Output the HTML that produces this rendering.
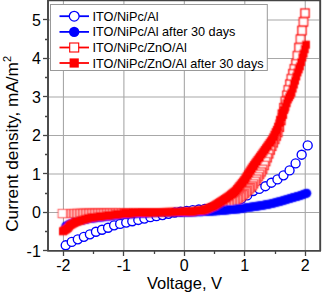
<!DOCTYPE html>
<html><head><meta charset="utf-8"><style>
html,body{margin:0;padding:0;background:#fff;}
body{width:322px;height:292px;overflow:hidden;font-family:"Liberation Sans",sans-serif;}
svg{display:block;}
#w{width:322px;height:292px;}
</style></head><body><div id="w">
<svg width="322" height="292" viewBox="0 0 322 292"><defs><filter id="soft" filterUnits="userSpaceOnUse" x="0" y="0" width="322" height="292"><feConvolveMatrix order="3" kernelMatrix="0.04 0.1 0.04 0.1 0.44 0.1 0.04 0.1 0.04" divisor="1" edgeMode="duplicate"/></filter></defs>
<line x1="63.45" y1="1" x2="63.45" y2="250" stroke="#a8a8a8" stroke-width="1.1"/>
<line x1="123.90" y1="1" x2="123.90" y2="250" stroke="#a8a8a8" stroke-width="1.1"/>
<line x1="184.35" y1="1" x2="184.35" y2="250" stroke="#a8a8a8" stroke-width="1.1"/>
<line x1="244.80" y1="1" x2="244.80" y2="250" stroke="#a8a8a8" stroke-width="1.1"/>
<line x1="305.25" y1="1" x2="305.25" y2="250" stroke="#a8a8a8" stroke-width="1.1"/>
<line x1="48" y1="212.45" x2="319" y2="212.45" stroke="#a8a8a8" stroke-width="1.1"/>
<line x1="48" y1="173.95" x2="319" y2="173.95" stroke="#a8a8a8" stroke-width="1.1"/>
<line x1="48" y1="135.45" x2="319" y2="135.45" stroke="#a8a8a8" stroke-width="1.1"/>
<line x1="48" y1="96.95" x2="319" y2="96.95" stroke="#a8a8a8" stroke-width="1.1"/>
<line x1="48" y1="58.45" x2="319" y2="58.45" stroke="#a8a8a8" stroke-width="1.1"/>
<line x1="48" y1="19.95" x2="319" y2="19.95" stroke="#a8a8a8" stroke-width="1.1"/>
<circle cx="65.70" cy="245.29" r="4.5" fill="#fff" stroke="#0000ff" stroke-width="1.35"/>
<circle cx="71.75" cy="241.89" r="4.5" fill="#fff" stroke="#0000ff" stroke-width="1.35"/>
<circle cx="77.80" cy="239.30" r="4.5" fill="#fff" stroke="#0000ff" stroke-width="1.35"/>
<circle cx="83.85" cy="236.80" r="4.5" fill="#fff" stroke="#0000ff" stroke-width="1.35"/>
<circle cx="89.90" cy="234.30" r="4.5" fill="#fff" stroke="#0000ff" stroke-width="1.35"/>
<circle cx="95.95" cy="231.78" r="4.5" fill="#fff" stroke="#0000ff" stroke-width="1.35"/>
<circle cx="102.00" cy="229.74" r="4.5" fill="#fff" stroke="#0000ff" stroke-width="1.35"/>
<circle cx="108.05" cy="227.72" r="4.5" fill="#fff" stroke="#0000ff" stroke-width="1.35"/>
<circle cx="114.10" cy="225.36" r="4.5" fill="#fff" stroke="#0000ff" stroke-width="1.35"/>
<circle cx="120.15" cy="223.91" r="4.5" fill="#fff" stroke="#0000ff" stroke-width="1.35"/>
<circle cx="126.20" cy="222.55" r="4.5" fill="#fff" stroke="#0000ff" stroke-width="1.35"/>
<circle cx="132.25" cy="221.27" r="4.5" fill="#fff" stroke="#0000ff" stroke-width="1.35"/>
<circle cx="138.30" cy="219.95" r="4.5" fill="#fff" stroke="#0000ff" stroke-width="1.35"/>
<circle cx="144.35" cy="218.56" r="4.5" fill="#fff" stroke="#0000ff" stroke-width="1.35"/>
<circle cx="150.40" cy="217.19" r="4.5" fill="#fff" stroke="#0000ff" stroke-width="1.35"/>
<circle cx="156.45" cy="216.13" r="4.5" fill="#fff" stroke="#0000ff" stroke-width="1.35"/>
<circle cx="162.50" cy="215.07" r="4.5" fill="#fff" stroke="#0000ff" stroke-width="1.35"/>
<circle cx="168.55" cy="213.83" r="4.5" fill="#fff" stroke="#0000ff" stroke-width="1.35"/>
<circle cx="174.60" cy="212.57" r="4.5" fill="#fff" stroke="#0000ff" stroke-width="1.35"/>
<circle cx="180.65" cy="211.66" r="4.5" fill="#fff" stroke="#0000ff" stroke-width="1.35"/>
<circle cx="186.70" cy="210.84" r="4.5" fill="#fff" stroke="#0000ff" stroke-width="1.35"/>
<circle cx="192.75" cy="210.11" r="4.5" fill="#fff" stroke="#0000ff" stroke-width="1.35"/>
<circle cx="198.80" cy="209.46" r="4.5" fill="#fff" stroke="#0000ff" stroke-width="1.35"/>
<circle cx="204.85" cy="208.82" r="4.5" fill="#fff" stroke="#0000ff" stroke-width="1.35"/>
<circle cx="210.90" cy="207.90" r="4.5" fill="#fff" stroke="#0000ff" stroke-width="1.35"/>
<circle cx="216.95" cy="206.97" r="4.5" fill="#fff" stroke="#0000ff" stroke-width="1.35"/>
<circle cx="223.00" cy="205.60" r="4.5" fill="#fff" stroke="#0000ff" stroke-width="1.35"/>
<circle cx="229.05" cy="203.78" r="4.5" fill="#fff" stroke="#0000ff" stroke-width="1.35"/>
<circle cx="235.10" cy="201.95" r="4.5" fill="#fff" stroke="#0000ff" stroke-width="1.35"/>
<circle cx="241.15" cy="198.93" r="4.5" fill="#fff" stroke="#0000ff" stroke-width="1.35"/>
<circle cx="247.20" cy="195.40" r="4.5" fill="#fff" stroke="#0000ff" stroke-width="1.35"/>
<circle cx="253.25" cy="191.00" r="4.5" fill="#fff" stroke="#0000ff" stroke-width="1.35"/>
<circle cx="259.30" cy="188.90" r="4.5" fill="#fff" stroke="#0000ff" stroke-width="1.35"/>
<circle cx="265.35" cy="186.20" r="4.5" fill="#fff" stroke="#0000ff" stroke-width="1.35"/>
<circle cx="271.40" cy="182.70" r="4.5" fill="#fff" stroke="#0000ff" stroke-width="1.35"/>
<circle cx="277.45" cy="179.40" r="4.5" fill="#fff" stroke="#0000ff" stroke-width="1.35"/>
<circle cx="283.50" cy="175.30" r="4.5" fill="#fff" stroke="#0000ff" stroke-width="1.35"/>
<circle cx="289.55" cy="170.40" r="4.5" fill="#fff" stroke="#0000ff" stroke-width="1.35"/>
<circle cx="295.60" cy="163.40" r="4.5" fill="#fff" stroke="#0000ff" stroke-width="1.35"/>
<circle cx="301.65" cy="154.70" r="4.5" fill="#fff" stroke="#0000ff" stroke-width="1.35"/>
<circle cx="307.70" cy="145.40" r="4.5" fill="#fff" stroke="#0000ff" stroke-width="1.35"/>
<g filter="url(#soft)">
<rect x="300.90" y="9.10" width="8.2" height="8.2" fill="#fff" stroke="#ff0000" stroke-width="1.40"/>
<rect x="299.39" y="17.76" width="8.2" height="8.2" fill="#fff" stroke="#ff0000" stroke-width="1.40"/>
<rect x="297.88" y="26.43" width="8.2" height="8.2" fill="#fff" stroke="#ff0000" stroke-width="1.40"/>
<rect x="296.38" y="35.09" width="8.2" height="8.2" fill="#fff" stroke="#ff0000" stroke-width="1.40"/>
<rect x="294.87" y="43.54" width="8.2" height="8.2" fill="#fff" stroke="#ff0000" stroke-width="1.40"/>
<rect x="293.36" y="51.58" width="8.2" height="8.2" fill="#fff" stroke="#ff0000" stroke-width="1.40"/>
<rect x="291.85" y="59.63" width="8.2" height="8.2" fill="#fff" stroke="#ff0000" stroke-width="1.40"/>
<rect x="290.34" y="64.67" width="8.2" height="8.2" fill="#fff" stroke="#ff0000" stroke-width="1.40"/>
<rect x="288.84" y="69.60" width="8.2" height="8.2" fill="#fff" stroke="#ff0000" stroke-width="1.40"/>
<rect x="287.33" y="74.57" width="8.2" height="8.2" fill="#fff" stroke="#ff0000" stroke-width="1.40"/>
<rect x="285.82" y="80.14" width="8.2" height="8.2" fill="#fff" stroke="#ff0000" stroke-width="1.40"/>
<rect x="284.31" y="85.70" width="8.2" height="8.2" fill="#fff" stroke="#ff0000" stroke-width="1.38"/>
<rect x="282.80" y="91.27" width="8.2" height="8.2" fill="#fff" stroke="#ff0000" stroke-width="1.36"/>
<rect x="281.30" y="97.29" width="8.2" height="8.2" fill="#fff" stroke="#ff0000" stroke-width="1.35"/>
<rect x="279.79" y="103.62" width="8.2" height="8.2" fill="#fff" stroke="#ff0000" stroke-width="1.33"/>
<rect x="278.28" y="110.03" width="8.2" height="8.2" fill="#fff" stroke="#ff0000" stroke-width="1.31"/>
<rect x="276.77" y="116.47" width="8.2" height="8.2" fill="#fff" stroke="#ff0000" stroke-width="1.30"/>
<rect x="275.26" y="123.17" width="8.2" height="8.2" fill="#fff" stroke="#ff0000" stroke-width="1.28"/>
<rect x="273.75" y="128.47" width="8.2" height="8.2" fill="#fff" stroke="#ff0000" stroke-width="1.26"/>
<rect x="272.25" y="131.89" width="8.2" height="8.2" fill="#fff" stroke="#ff0000" stroke-width="1.24"/>
<rect x="270.74" y="135.32" width="8.2" height="8.2" fill="#fff" stroke="#ff0000" stroke-width="1.23"/>
<rect x="269.23" y="138.74" width="8.2" height="8.2" fill="#fff" stroke="#ff0000" stroke-width="1.21"/>
<rect x="267.72" y="142.17" width="8.2" height="8.2" fill="#fff" stroke="#ff0000" stroke-width="1.19"/>
<rect x="266.21" y="145.93" width="8.2" height="8.2" fill="#fff" stroke="#ff0000" stroke-width="1.18"/>
<rect x="264.71" y="149.78" width="8.2" height="8.2" fill="#fff" stroke="#ff0000" stroke-width="1.16"/>
<rect x="263.20" y="153.64" width="8.2" height="8.2" fill="#fff" stroke="#ff0000" stroke-width="1.14"/>
<rect x="261.69" y="157.49" width="8.2" height="8.2" fill="#fff" stroke="#ff0000" stroke-width="1.12"/>
<rect x="260.18" y="161.35" width="8.2" height="8.2" fill="#fff" stroke="#ff0000" stroke-width="1.11"/>
<rect x="258.67" y="165.20" width="8.2" height="8.2" fill="#fff" stroke="#ff0000" stroke-width="1.09"/>
<rect x="257.17" y="167.84" width="8.2" height="8.2" fill="#fff" stroke="#ff0000" stroke-width="1.07"/>
<rect x="255.66" y="170.21" width="8.2" height="8.2" fill="#fff" stroke="#ff0000" stroke-width="1.05"/>
<rect x="254.15" y="172.57" width="8.2" height="8.2" fill="#fff" stroke="#ff0000" stroke-width="1.04"/>
<rect x="252.64" y="174.94" width="8.2" height="8.2" fill="#fff" stroke="#ff0000" stroke-width="1.02"/>
<rect x="251.13" y="177.31" width="8.2" height="8.2" fill="#fff" stroke="#ff0000" stroke-width="1.00"/>
<rect x="249.63" y="179.68" width="8.2" height="8.2" fill="#fff" stroke="#ff0000" stroke-width="0.99"/>
<rect x="248.12" y="181.88" width="8.2" height="8.2" fill="#fff" stroke="#ff0000" stroke-width="0.99"/>
<rect x="246.61" y="183.35" width="8.2" height="8.2" fill="#fff" stroke="#ff0000" stroke-width="0.98"/>
<rect x="245.10" y="184.83" width="8.2" height="8.2" fill="#fff" stroke="#ff0000" stroke-width="0.97"/>
<rect x="243.59" y="186.31" width="8.2" height="8.2" fill="#fff" stroke="#ff0000" stroke-width="0.97"/>
<rect x="242.09" y="187.78" width="8.2" height="8.2" fill="#fff" stroke="#ff0000" stroke-width="0.96"/>
<rect x="240.58" y="189.26" width="8.2" height="8.2" fill="#fff" stroke="#ff0000" stroke-width="0.95"/>
<rect x="239.07" y="190.73" width="8.2" height="8.2" fill="#fff" stroke="#ff0000" stroke-width="0.95"/>
<rect x="237.56" y="191.82" width="8.2" height="8.2" fill="#fff" stroke="#ff0000" stroke-width="0.94"/>
<rect x="236.05" y="192.86" width="8.2" height="8.2" fill="#fff" stroke="#ff0000" stroke-width="0.93"/>
<rect x="234.54" y="193.89" width="8.2" height="8.2" fill="#fff" stroke="#ff0000" stroke-width="0.93"/>
<rect x="233.04" y="194.93" width="8.2" height="8.2" fill="#fff" stroke="#ff0000" stroke-width="0.92"/>
<rect x="231.53" y="195.97" width="8.2" height="8.2" fill="#fff" stroke="#ff0000" stroke-width="0.91"/>
<rect x="230.02" y="196.80" width="8.2" height="8.2" fill="#fff" stroke="#ff0000" stroke-width="0.91"/>
<rect x="228.51" y="197.47" width="8.2" height="8.2" fill="#fff" stroke="#ff0000" stroke-width="0.90"/>
<rect x="227.00" y="198.15" width="8.2" height="8.2" fill="#fff" stroke="#ff0000" stroke-width="0.89"/>
<rect x="225.50" y="198.83" width="8.2" height="8.2" fill="#fff" stroke="#ff0000" stroke-width="0.88"/>
<rect x="223.99" y="199.51" width="8.2" height="8.2" fill="#fff" stroke="#ff0000" stroke-width="0.88"/>
<rect x="222.48" y="200.19" width="8.2" height="8.2" fill="#fff" stroke="#ff0000" stroke-width="0.87"/>
<rect x="220.97" y="200.87" width="8.2" height="8.2" fill="#fff" stroke="#ff0000" stroke-width="0.86"/>
<rect x="219.46" y="201.37" width="8.2" height="8.2" fill="#fff" stroke="#ff0000" stroke-width="0.86"/>
<rect x="217.96" y="201.87" width="8.2" height="8.2" fill="#fff" stroke="#ff0000" stroke-width="0.85"/>
<rect x="216.45" y="202.37" width="8.2" height="8.2" fill="#fff" stroke="#ff0000" stroke-width="0.84"/>
<rect x="214.94" y="202.87" width="8.2" height="8.2" fill="#fff" stroke="#ff0000" stroke-width="0.84"/>
<rect x="213.43" y="203.36" width="8.2" height="8.2" fill="#fff" stroke="#ff0000" stroke-width="0.83"/>
<rect x="211.92" y="203.86" width="8.2" height="8.2" fill="#fff" stroke="#ff0000" stroke-width="0.82"/>
<rect x="210.42" y="204.29" width="8.2" height="8.2" fill="#fff" stroke="#ff0000" stroke-width="0.82"/>
<rect x="208.91" y="204.56" width="8.2" height="8.2" fill="#fff" stroke="#ff0000" stroke-width="0.81"/>
<rect x="207.40" y="204.83" width="8.2" height="8.2" fill="#fff" stroke="#ff0000" stroke-width="0.80"/>
<rect x="205.89" y="205.10" width="8.2" height="8.2" fill="#fff" stroke="#ff0000" stroke-width="0.80"/>
<rect x="204.38" y="205.37" width="8.2" height="8.2" fill="#fff" stroke="#ff0000" stroke-width="0.79"/>
<rect x="202.88" y="205.64" width="8.2" height="8.2" fill="#fff" stroke="#ff0000" stroke-width="0.78"/>
<rect x="201.37" y="205.92" width="8.2" height="8.2" fill="#fff" stroke="#ff0000" stroke-width="0.77"/>
<rect x="199.86" y="206.19" width="8.2" height="8.2" fill="#fff" stroke="#ff0000" stroke-width="0.77"/>
<rect x="198.35" y="206.46" width="8.2" height="8.2" fill="#fff" stroke="#ff0000" stroke-width="0.76"/>
<rect x="196.84" y="206.73" width="8.2" height="8.2" fill="#fff" stroke="#ff0000" stroke-width="0.75"/>
<rect x="195.33" y="206.95" width="8.2" height="8.2" fill="#fff" stroke="#ff0000" stroke-width="0.75"/>
<rect x="193.83" y="207.07" width="8.2" height="8.2" fill="#fff" stroke="#ff0000" stroke-width="0.75"/>
<rect x="192.32" y="207.19" width="8.2" height="8.2" fill="#fff" stroke="#ff0000" stroke-width="0.75"/>
<rect x="190.81" y="207.31" width="8.2" height="8.2" fill="#fff" stroke="#ff0000" stroke-width="0.75"/>
<rect x="189.30" y="207.43" width="8.2" height="8.2" fill="#fff" stroke="#ff0000" stroke-width="0.75"/>
<rect x="187.79" y="207.55" width="8.2" height="8.2" fill="#fff" stroke="#ff0000" stroke-width="0.75"/>
<rect x="186.29" y="207.67" width="8.2" height="8.2" fill="#fff" stroke="#ff0000" stroke-width="0.75"/>
<rect x="184.78" y="207.79" width="8.2" height="8.2" fill="#fff" stroke="#ff0000" stroke-width="0.75"/>
<rect x="183.27" y="207.91" width="8.2" height="8.2" fill="#fff" stroke="#ff0000" stroke-width="0.75"/>
<rect x="181.76" y="208.03" width="8.2" height="8.2" fill="#fff" stroke="#ff0000" stroke-width="0.75"/>
<rect x="180.25" y="208.11" width="8.2" height="8.2" fill="#fff" stroke="#ff0000" stroke-width="0.75"/>
<rect x="178.75" y="208.12" width="8.2" height="8.2" fill="#fff" stroke="#ff0000" stroke-width="0.75"/>
<rect x="177.24" y="208.14" width="8.2" height="8.2" fill="#fff" stroke="#ff0000" stroke-width="0.75"/>
<rect x="175.73" y="208.16" width="8.2" height="8.2" fill="#fff" stroke="#ff0000" stroke-width="0.75"/>
<rect x="174.22" y="208.18" width="8.2" height="8.2" fill="#fff" stroke="#ff0000" stroke-width="0.75"/>
<rect x="172.71" y="208.19" width="8.2" height="8.2" fill="#fff" stroke="#ff0000" stroke-width="0.75"/>
<rect x="171.21" y="208.21" width="8.2" height="8.2" fill="#fff" stroke="#ff0000" stroke-width="0.75"/>
<rect x="169.70" y="208.23" width="8.2" height="8.2" fill="#fff" stroke="#ff0000" stroke-width="0.75"/>
<rect x="168.19" y="208.25" width="8.2" height="8.2" fill="#fff" stroke="#ff0000" stroke-width="0.75"/>
<rect x="166.68" y="208.26" width="8.2" height="8.2" fill="#fff" stroke="#ff0000" stroke-width="0.75"/>
<rect x="165.17" y="208.28" width="8.2" height="8.2" fill="#fff" stroke="#ff0000" stroke-width="0.75"/>
<rect x="163.67" y="208.30" width="8.2" height="8.2" fill="#fff" stroke="#ff0000" stroke-width="0.75"/>
<rect x="162.16" y="208.31" width="8.2" height="8.2" fill="#fff" stroke="#ff0000" stroke-width="0.75"/>
<rect x="160.65" y="208.33" width="8.2" height="8.2" fill="#fff" stroke="#ff0000" stroke-width="0.75"/>
<rect x="159.14" y="208.35" width="8.2" height="8.2" fill="#fff" stroke="#ff0000" stroke-width="0.75"/>
<rect x="157.63" y="208.37" width="8.2" height="8.2" fill="#fff" stroke="#ff0000" stroke-width="0.75"/>
<rect x="156.12" y="208.38" width="8.2" height="8.2" fill="#fff" stroke="#ff0000" stroke-width="0.75"/>
<rect x="154.62" y="208.40" width="8.2" height="8.2" fill="#fff" stroke="#ff0000" stroke-width="0.75"/>
<rect x="153.11" y="208.42" width="8.2" height="8.2" fill="#fff" stroke="#ff0000" stroke-width="0.75"/>
<rect x="151.60" y="208.43" width="8.2" height="8.2" fill="#fff" stroke="#ff0000" stroke-width="0.75"/>
<rect x="150.09" y="208.45" width="8.2" height="8.2" fill="#fff" stroke="#ff0000" stroke-width="0.75"/>
<rect x="148.58" y="208.47" width="8.2" height="8.2" fill="#fff" stroke="#ff0000" stroke-width="0.75"/>
<rect x="147.08" y="208.49" width="8.2" height="8.2" fill="#fff" stroke="#ff0000" stroke-width="0.75"/>
<rect x="145.57" y="208.50" width="8.2" height="8.2" fill="#fff" stroke="#ff0000" stroke-width="0.75"/>
<rect x="144.06" y="208.52" width="8.2" height="8.2" fill="#fff" stroke="#ff0000" stroke-width="0.75"/>
<rect x="142.55" y="208.53" width="8.2" height="8.2" fill="#fff" stroke="#ff0000" stroke-width="0.75"/>
<rect x="141.04" y="208.55" width="8.2" height="8.2" fill="#fff" stroke="#ff0000" stroke-width="0.75"/>
<rect x="139.54" y="208.56" width="8.2" height="8.2" fill="#fff" stroke="#ff0000" stroke-width="0.75"/>
<rect x="138.03" y="208.58" width="8.2" height="8.2" fill="#fff" stroke="#ff0000" stroke-width="0.75"/>
<rect x="136.52" y="208.59" width="8.2" height="8.2" fill="#fff" stroke="#ff0000" stroke-width="0.75"/>
<rect x="135.01" y="208.61" width="8.2" height="8.2" fill="#fff" stroke="#ff0000" stroke-width="0.75"/>
<rect x="133.50" y="208.62" width="8.2" height="8.2" fill="#fff" stroke="#ff0000" stroke-width="0.75"/>
<rect x="132.00" y="208.64" width="8.2" height="8.2" fill="#fff" stroke="#ff0000" stroke-width="0.75"/>
<rect x="130.49" y="208.65" width="8.2" height="8.2" fill="#fff" stroke="#ff0000" stroke-width="0.75"/>
<rect x="128.98" y="208.67" width="8.2" height="8.2" fill="#fff" stroke="#ff0000" stroke-width="0.75"/>
<rect x="127.47" y="208.68" width="8.2" height="8.2" fill="#fff" stroke="#ff0000" stroke-width="0.75"/>
<rect x="125.96" y="208.70" width="8.2" height="8.2" fill="#fff" stroke="#ff0000" stroke-width="0.75"/>
<rect x="124.46" y="208.71" width="8.2" height="8.2" fill="#fff" stroke="#ff0000" stroke-width="0.75"/>
<rect x="122.95" y="208.73" width="8.2" height="8.2" fill="#fff" stroke="#ff0000" stroke-width="0.75"/>
<rect x="121.44" y="208.74" width="8.2" height="8.2" fill="#fff" stroke="#ff0000" stroke-width="0.75"/>
<rect x="119.93" y="208.76" width="8.2" height="8.2" fill="#fff" stroke="#ff0000" stroke-width="0.75"/>
<rect x="118.42" y="208.77" width="8.2" height="8.2" fill="#fff" stroke="#ff0000" stroke-width="0.75"/>
<rect x="116.91" y="208.79" width="8.2" height="8.2" fill="#fff" stroke="#ff0000" stroke-width="0.75"/>
<rect x="115.41" y="208.80" width="8.2" height="8.2" fill="#fff" stroke="#ff0000" stroke-width="0.75"/>
<rect x="113.90" y="208.82" width="8.2" height="8.2" fill="#fff" stroke="#ff0000" stroke-width="0.75"/>
<rect x="112.39" y="208.84" width="8.2" height="8.2" fill="#fff" stroke="#ff0000" stroke-width="0.75"/>
<rect x="110.88" y="208.85" width="8.2" height="8.2" fill="#fff" stroke="#ff0000" stroke-width="0.75"/>
<rect x="109.37" y="208.87" width="8.2" height="8.2" fill="#fff" stroke="#ff0000" stroke-width="0.75"/>
<rect x="107.87" y="208.88" width="8.2" height="8.2" fill="#fff" stroke="#ff0000" stroke-width="0.75"/>
<rect x="106.36" y="208.90" width="8.2" height="8.2" fill="#fff" stroke="#ff0000" stroke-width="0.75"/>
<rect x="104.85" y="208.91" width="8.2" height="8.2" fill="#fff" stroke="#ff0000" stroke-width="0.75"/>
<rect x="103.34" y="208.93" width="8.2" height="8.2" fill="#fff" stroke="#ff0000" stroke-width="0.75"/>
<rect x="101.83" y="208.94" width="8.2" height="8.2" fill="#fff" stroke="#ff0000" stroke-width="0.75"/>
<rect x="100.33" y="208.96" width="8.2" height="8.2" fill="#fff" stroke="#ff0000" stroke-width="0.75"/>
<rect x="98.82" y="208.97" width="8.2" height="8.2" fill="#fff" stroke="#ff0000" stroke-width="0.75"/>
<rect x="97.31" y="208.99" width="8.2" height="8.2" fill="#fff" stroke="#ff0000" stroke-width="0.75"/>
<rect x="95.80" y="209.00" width="8.2" height="8.2" fill="#fff" stroke="#ff0000" stroke-width="0.75"/>
<rect x="94.29" y="209.02" width="8.2" height="8.2" fill="#fff" stroke="#ff0000" stroke-width="0.75"/>
<rect x="92.79" y="209.03" width="8.2" height="8.2" fill="#fff" stroke="#ff0000" stroke-width="0.75"/>
<rect x="91.28" y="209.05" width="8.2" height="8.2" fill="#fff" stroke="#ff0000" stroke-width="0.75"/>
<rect x="89.77" y="209.06" width="8.2" height="8.2" fill="#fff" stroke="#ff0000" stroke-width="0.75"/>
<rect x="88.26" y="209.08" width="8.2" height="8.2" fill="#fff" stroke="#ff0000" stroke-width="0.75"/>
<rect x="86.75" y="209.09" width="8.2" height="8.2" fill="#fff" stroke="#ff0000" stroke-width="0.75"/>
<rect x="85.25" y="209.11" width="8.2" height="8.2" fill="#fff" stroke="#ff0000" stroke-width="0.75"/>
<rect x="83.74" y="209.13" width="8.2" height="8.2" fill="#fff" stroke="#ff0000" stroke-width="0.75"/>
<rect x="82.23" y="209.15" width="8.2" height="8.2" fill="#fff" stroke="#ff0000" stroke-width="0.75"/>
<rect x="80.72" y="209.17" width="8.2" height="8.2" fill="#fff" stroke="#ff0000" stroke-width="0.75"/>
<rect x="79.21" y="209.20" width="8.2" height="8.2" fill="#fff" stroke="#ff0000" stroke-width="0.75"/>
<rect x="77.70" y="209.22" width="8.2" height="8.2" fill="#fff" stroke="#ff0000" stroke-width="0.75"/>
<rect x="76.20" y="209.24" width="8.2" height="8.2" fill="#fff" stroke="#ff0000" stroke-width="0.75"/>
<rect x="74.69" y="209.26" width="8.2" height="8.2" fill="#fff" stroke="#ff0000" stroke-width="0.75"/>
<rect x="73.18" y="209.28" width="8.2" height="8.2" fill="#fff" stroke="#ff0000" stroke-width="0.75"/>
<rect x="71.67" y="209.30" width="8.2" height="8.2" fill="#fff" stroke="#ff0000" stroke-width="0.75"/>
<rect x="70.16" y="209.33" width="8.2" height="8.2" fill="#fff" stroke="#ff0000" stroke-width="0.75"/>
<rect x="68.66" y="209.35" width="8.2" height="8.2" fill="#fff" stroke="#ff0000" stroke-width="0.75"/>
<rect x="67.15" y="209.37" width="8.2" height="8.2" fill="#fff" stroke="#ff0000" stroke-width="0.75"/>
<rect x="65.64" y="209.39" width="8.2" height="8.2" fill="#fff" stroke="#ff0000" stroke-width="0.75"/>
<rect x="64.13" y="209.41" width="8.2" height="8.2" fill="#fff" stroke="#ff0000" stroke-width="0.75"/>
<rect x="62.62" y="209.43" width="8.2" height="8.2" fill="#fff" stroke="#ff0000" stroke-width="0.75"/>
<rect x="61.12" y="209.46" width="8.2" height="8.2" fill="#fff" stroke="#ff0000" stroke-width="0.75"/>
<rect x="59.61" y="209.48" width="8.2" height="8.2" fill="#fff" stroke="#ff0000" stroke-width="0.75"/>
<rect x="58.10" y="209.50" width="8.2" height="8.2" fill="#fff" stroke="#ff0000" stroke-width="0.75"/>
<circle cx="65.70" cy="226.20" r="4.5" fill="#0000ff"/>
<circle cx="66.91" cy="225.52" r="4.5" fill="#0000ff"/>
<circle cx="68.12" cy="224.85" r="4.5" fill="#0000ff"/>
<circle cx="69.33" cy="224.17" r="4.5" fill="#0000ff"/>
<circle cx="70.55" cy="223.60" r="4.5" fill="#0000ff"/>
<circle cx="71.76" cy="223.17" r="4.5" fill="#0000ff"/>
<circle cx="72.97" cy="222.73" r="4.5" fill="#0000ff"/>
<circle cx="74.18" cy="222.29" r="4.5" fill="#0000ff"/>
<circle cx="75.39" cy="221.91" r="4.5" fill="#0000ff"/>
<circle cx="76.60" cy="221.62" r="4.5" fill="#0000ff"/>
<circle cx="77.82" cy="221.32" r="4.5" fill="#0000ff"/>
<circle cx="79.03" cy="221.03" r="4.5" fill="#0000ff"/>
<circle cx="80.24" cy="220.75" r="4.5" fill="#0000ff"/>
<circle cx="81.45" cy="220.48" r="4.5" fill="#0000ff"/>
<circle cx="82.66" cy="220.21" r="4.5" fill="#0000ff"/>
<circle cx="83.87" cy="219.95" r="4.5" fill="#0000ff"/>
<circle cx="85.08" cy="219.68" r="4.5" fill="#0000ff"/>
<circle cx="86.30" cy="219.41" r="4.5" fill="#0000ff"/>
<circle cx="87.51" cy="219.15" r="4.5" fill="#0000ff"/>
<circle cx="88.72" cy="218.88" r="4.5" fill="#0000ff"/>
<circle cx="89.93" cy="218.62" r="4.5" fill="#0000ff"/>
<circle cx="91.14" cy="218.45" r="4.5" fill="#0000ff"/>
<circle cx="92.35" cy="218.29" r="4.5" fill="#0000ff"/>
<circle cx="93.57" cy="218.14" r="4.5" fill="#0000ff"/>
<circle cx="94.78" cy="217.98" r="4.5" fill="#0000ff"/>
<circle cx="95.99" cy="217.82" r="4.5" fill="#0000ff"/>
<circle cx="97.20" cy="217.66" r="4.5" fill="#0000ff"/>
<circle cx="98.41" cy="217.51" r="4.5" fill="#0000ff"/>
<circle cx="99.62" cy="217.35" r="4.5" fill="#0000ff"/>
<circle cx="100.84" cy="217.20" r="4.5" fill="#0000ff"/>
<circle cx="102.05" cy="217.06" r="4.5" fill="#0000ff"/>
<circle cx="103.26" cy="216.92" r="4.5" fill="#0000ff"/>
<circle cx="104.47" cy="216.78" r="4.5" fill="#0000ff"/>
<circle cx="105.68" cy="216.64" r="4.5" fill="#0000ff"/>
<circle cx="106.89" cy="216.50" r="4.5" fill="#0000ff"/>
<circle cx="108.10" cy="216.36" r="4.5" fill="#0000ff"/>
<circle cx="109.32" cy="216.22" r="4.5" fill="#0000ff"/>
<circle cx="110.53" cy="216.08" r="4.5" fill="#0000ff"/>
<circle cx="111.74" cy="215.94" r="4.5" fill="#0000ff"/>
<circle cx="112.95" cy="215.80" r="4.5" fill="#0000ff"/>
<circle cx="114.16" cy="215.66" r="4.5" fill="#0000ff"/>
<circle cx="115.37" cy="215.52" r="4.5" fill="#0000ff"/>
<circle cx="116.59" cy="215.38" r="4.5" fill="#0000ff"/>
<circle cx="117.80" cy="215.24" r="4.5" fill="#0000ff"/>
<circle cx="119.01" cy="215.10" r="4.5" fill="#0000ff"/>
<circle cx="120.22" cy="214.95" r="4.5" fill="#0000ff"/>
<circle cx="121.43" cy="214.81" r="4.5" fill="#0000ff"/>
<circle cx="122.64" cy="214.67" r="4.5" fill="#0000ff"/>
<circle cx="123.85" cy="214.53" r="4.5" fill="#0000ff"/>
<circle cx="125.07" cy="214.40" r="4.5" fill="#0000ff"/>
<circle cx="126.28" cy="214.32" r="4.5" fill="#0000ff"/>
<circle cx="127.49" cy="214.24" r="4.5" fill="#0000ff"/>
<circle cx="128.70" cy="214.16" r="4.5" fill="#0000ff"/>
<circle cx="129.91" cy="214.09" r="4.5" fill="#0000ff"/>
<circle cx="131.12" cy="214.01" r="4.5" fill="#0000ff"/>
<circle cx="132.34" cy="213.93" r="4.5" fill="#0000ff"/>
<circle cx="133.55" cy="213.85" r="4.5" fill="#0000ff"/>
<circle cx="134.76" cy="213.78" r="4.5" fill="#0000ff"/>
<circle cx="135.97" cy="213.70" r="4.5" fill="#0000ff"/>
<circle cx="137.18" cy="213.62" r="4.5" fill="#0000ff"/>
<circle cx="138.39" cy="213.54" r="4.5" fill="#0000ff"/>
<circle cx="139.61" cy="213.47" r="4.5" fill="#0000ff"/>
<circle cx="140.82" cy="213.39" r="4.5" fill="#0000ff"/>
<circle cx="142.03" cy="213.31" r="4.5" fill="#0000ff"/>
<circle cx="143.24" cy="213.23" r="4.5" fill="#0000ff"/>
<circle cx="144.45" cy="213.16" r="4.5" fill="#0000ff"/>
<circle cx="145.66" cy="213.08" r="4.5" fill="#0000ff"/>
<circle cx="146.87" cy="213.00" r="4.5" fill="#0000ff"/>
<circle cx="148.09" cy="212.92" r="4.5" fill="#0000ff"/>
<circle cx="149.30" cy="212.84" r="4.5" fill="#0000ff"/>
<circle cx="150.51" cy="212.79" r="4.5" fill="#0000ff"/>
<circle cx="151.72" cy="212.77" r="4.5" fill="#0000ff"/>
<circle cx="152.93" cy="212.75" r="4.5" fill="#0000ff"/>
<circle cx="154.14" cy="212.73" r="4.5" fill="#0000ff"/>
<circle cx="155.36" cy="212.71" r="4.5" fill="#0000ff"/>
<circle cx="156.57" cy="212.68" r="4.5" fill="#0000ff"/>
<circle cx="157.78" cy="212.66" r="4.5" fill="#0000ff"/>
<circle cx="158.99" cy="212.64" r="4.5" fill="#0000ff"/>
<circle cx="160.20" cy="212.62" r="4.5" fill="#0000ff"/>
<circle cx="161.41" cy="212.60" r="4.5" fill="#0000ff"/>
<circle cx="162.62" cy="212.58" r="4.5" fill="#0000ff"/>
<circle cx="163.84" cy="212.56" r="4.5" fill="#0000ff"/>
<circle cx="165.05" cy="212.53" r="4.5" fill="#0000ff"/>
<circle cx="166.26" cy="212.51" r="4.5" fill="#0000ff"/>
<circle cx="167.47" cy="212.49" r="4.5" fill="#0000ff"/>
<circle cx="168.68" cy="212.47" r="4.5" fill="#0000ff"/>
<circle cx="169.89" cy="212.45" r="4.5" fill="#0000ff"/>
<circle cx="171.11" cy="212.43" r="4.5" fill="#0000ff"/>
<circle cx="172.32" cy="212.41" r="4.5" fill="#0000ff"/>
<circle cx="173.53" cy="212.38" r="4.5" fill="#0000ff"/>
<circle cx="174.74" cy="212.36" r="4.5" fill="#0000ff"/>
<circle cx="175.95" cy="212.34" r="4.5" fill="#0000ff"/>
<circle cx="177.16" cy="212.32" r="4.5" fill="#0000ff"/>
<circle cx="178.37" cy="212.30" r="4.5" fill="#0000ff"/>
<circle cx="179.59" cy="212.28" r="4.5" fill="#0000ff"/>
<circle cx="180.80" cy="212.26" r="4.5" fill="#0000ff"/>
<circle cx="182.01" cy="212.24" r="4.5" fill="#0000ff"/>
<circle cx="183.22" cy="212.21" r="4.5" fill="#0000ff"/>
<circle cx="184.43" cy="212.19" r="4.5" fill="#0000ff"/>
<circle cx="185.64" cy="212.16" r="4.5" fill="#0000ff"/>
<circle cx="186.86" cy="212.13" r="4.5" fill="#0000ff"/>
<circle cx="188.07" cy="212.10" r="4.5" fill="#0000ff"/>
<circle cx="189.28" cy="212.07" r="4.5" fill="#0000ff"/>
<circle cx="190.49" cy="212.04" r="4.5" fill="#0000ff"/>
<circle cx="191.70" cy="212.01" r="4.5" fill="#0000ff"/>
<circle cx="192.91" cy="211.98" r="4.5" fill="#0000ff"/>
<circle cx="194.13" cy="211.95" r="4.5" fill="#0000ff"/>
<circle cx="195.34" cy="211.92" r="4.5" fill="#0000ff"/>
<circle cx="196.55" cy="211.89" r="4.5" fill="#0000ff"/>
<circle cx="197.76" cy="211.86" r="4.5" fill="#0000ff"/>
<circle cx="198.97" cy="211.83" r="4.5" fill="#0000ff"/>
<circle cx="200.18" cy="211.79" r="4.5" fill="#0000ff"/>
<circle cx="201.39" cy="211.73" r="4.5" fill="#0000ff"/>
<circle cx="202.61" cy="211.66" r="4.5" fill="#0000ff"/>
<circle cx="203.82" cy="211.60" r="4.5" fill="#0000ff"/>
<circle cx="205.03" cy="211.53" r="4.5" fill="#0000ff"/>
<circle cx="206.24" cy="211.47" r="4.5" fill="#0000ff"/>
<circle cx="207.45" cy="211.40" r="4.5" fill="#0000ff"/>
<circle cx="208.66" cy="211.34" r="4.5" fill="#0000ff"/>
<circle cx="209.88" cy="211.27" r="4.5" fill="#0000ff"/>
<circle cx="211.09" cy="211.21" r="4.5" fill="#0000ff"/>
<circle cx="212.30" cy="211.14" r="4.5" fill="#0000ff"/>
<circle cx="213.51" cy="211.08" r="4.5" fill="#0000ff"/>
<circle cx="214.72" cy="211.01" r="4.5" fill="#0000ff"/>
<circle cx="215.93" cy="210.93" r="4.5" fill="#0000ff"/>
<circle cx="217.14" cy="210.83" r="4.5" fill="#0000ff"/>
<circle cx="218.36" cy="210.73" r="4.5" fill="#0000ff"/>
<circle cx="219.57" cy="210.63" r="4.5" fill="#0000ff"/>
<circle cx="220.78" cy="210.54" r="4.5" fill="#0000ff"/>
<circle cx="221.99" cy="210.44" r="4.5" fill="#0000ff"/>
<circle cx="223.20" cy="210.34" r="4.5" fill="#0000ff"/>
<circle cx="224.41" cy="210.25" r="4.5" fill="#0000ff"/>
<circle cx="225.63" cy="210.14" r="4.5" fill="#0000ff"/>
<circle cx="226.84" cy="210.03" r="4.5" fill="#0000ff"/>
<circle cx="228.05" cy="209.92" r="4.5" fill="#0000ff"/>
<circle cx="229.26" cy="209.80" r="4.5" fill="#0000ff"/>
<circle cx="230.47" cy="209.69" r="4.5" fill="#0000ff"/>
<circle cx="231.68" cy="209.58" r="4.5" fill="#0000ff"/>
<circle cx="232.89" cy="209.46" r="4.5" fill="#0000ff"/>
<circle cx="234.11" cy="209.35" r="4.5" fill="#0000ff"/>
<circle cx="235.32" cy="209.24" r="4.5" fill="#0000ff"/>
<circle cx="236.53" cy="209.12" r="4.5" fill="#0000ff"/>
<circle cx="237.74" cy="209.01" r="4.5" fill="#0000ff"/>
<circle cx="238.95" cy="208.90" r="4.5" fill="#0000ff"/>
<circle cx="240.16" cy="208.77" r="4.5" fill="#0000ff"/>
<circle cx="241.38" cy="208.58" r="4.5" fill="#0000ff"/>
<circle cx="242.59" cy="208.39" r="4.5" fill="#0000ff"/>
<circle cx="243.80" cy="208.19" r="4.5" fill="#0000ff"/>
<circle cx="245.01" cy="208.00" r="4.5" fill="#0000ff"/>
<circle cx="246.22" cy="207.80" r="4.5" fill="#0000ff"/>
<circle cx="247.43" cy="207.61" r="4.5" fill="#0000ff"/>
<circle cx="248.65" cy="207.42" r="4.5" fill="#0000ff"/>
<circle cx="249.86" cy="207.22" r="4.5" fill="#0000ff"/>
<circle cx="251.07" cy="207.05" r="4.5" fill="#0000ff"/>
<circle cx="252.28" cy="206.88" r="4.5" fill="#0000ff"/>
<circle cx="253.49" cy="206.71" r="4.5" fill="#0000ff"/>
<circle cx="254.70" cy="206.54" r="4.5" fill="#0000ff"/>
<circle cx="255.91" cy="206.37" r="4.5" fill="#0000ff"/>
<circle cx="257.13" cy="206.20" r="4.5" fill="#0000ff"/>
<circle cx="258.34" cy="206.03" r="4.5" fill="#0000ff"/>
<circle cx="259.55" cy="205.86" r="4.5" fill="#0000ff"/>
<circle cx="260.76" cy="205.66" r="4.5" fill="#0000ff"/>
<circle cx="261.97" cy="205.44" r="4.5" fill="#0000ff"/>
<circle cx="263.18" cy="205.23" r="4.5" fill="#0000ff"/>
<circle cx="264.40" cy="205.01" r="4.5" fill="#0000ff"/>
<circle cx="265.61" cy="204.79" r="4.5" fill="#0000ff"/>
<circle cx="266.82" cy="204.57" r="4.5" fill="#0000ff"/>
<circle cx="268.03" cy="204.35" r="4.5" fill="#0000ff"/>
<circle cx="269.24" cy="204.14" r="4.5" fill="#0000ff"/>
<circle cx="270.45" cy="203.89" r="4.5" fill="#0000ff"/>
<circle cx="271.66" cy="203.58" r="4.5" fill="#0000ff"/>
<circle cx="272.88" cy="203.28" r="4.5" fill="#0000ff"/>
<circle cx="274.09" cy="202.98" r="4.5" fill="#0000ff"/>
<circle cx="275.30" cy="202.68" r="4.5" fill="#0000ff"/>
<circle cx="276.51" cy="202.37" r="4.5" fill="#0000ff"/>
<circle cx="277.72" cy="202.07" r="4.5" fill="#0000ff"/>
<circle cx="278.93" cy="201.77" r="4.5" fill="#0000ff"/>
<circle cx="280.15" cy="201.46" r="4.5" fill="#0000ff"/>
<circle cx="281.36" cy="201.09" r="4.5" fill="#0000ff"/>
<circle cx="282.57" cy="200.73" r="4.5" fill="#0000ff"/>
<circle cx="283.78" cy="200.37" r="4.5" fill="#0000ff"/>
<circle cx="284.99" cy="200.00" r="4.5" fill="#0000ff"/>
<circle cx="286.20" cy="199.64" r="4.5" fill="#0000ff"/>
<circle cx="287.42" cy="199.28" r="4.5" fill="#0000ff"/>
<circle cx="288.63" cy="198.91" r="4.5" fill="#0000ff"/>
<circle cx="289.84" cy="198.55" r="4.5" fill="#0000ff"/>
<circle cx="291.05" cy="198.21" r="4.5" fill="#0000ff"/>
<circle cx="292.26" cy="197.87" r="4.5" fill="#0000ff"/>
<circle cx="293.47" cy="197.53" r="4.5" fill="#0000ff"/>
<circle cx="294.68" cy="197.19" r="4.5" fill="#0000ff"/>
<circle cx="295.90" cy="196.85" r="4.5" fill="#0000ff"/>
<circle cx="297.11" cy="196.51" r="4.5" fill="#0000ff"/>
<circle cx="298.32" cy="196.17" r="4.5" fill="#0000ff"/>
<circle cx="299.53" cy="195.83" r="4.5" fill="#0000ff"/>
<circle cx="300.74" cy="195.43" r="4.5" fill="#0000ff"/>
<circle cx="301.95" cy="194.98" r="4.5" fill="#0000ff"/>
<circle cx="303.17" cy="194.54" r="4.5" fill="#0000ff"/>
<circle cx="304.38" cy="194.09" r="4.5" fill="#0000ff"/>
<circle cx="305.59" cy="193.65" r="4.5" fill="#0000ff"/>
<circle cx="306.80" cy="193.20" r="4.5" fill="#0000ff"/>
<rect x="59.00" y="227.30" width="8.0" height="8.0" fill="#ff0000"/>
<rect x="60.21" y="226.49" width="8.0" height="8.0" fill="#ff0000"/>
<rect x="61.42" y="225.69" width="8.0" height="8.0" fill="#ff0000"/>
<rect x="62.63" y="224.88" width="8.0" height="8.0" fill="#ff0000"/>
<rect x="63.83" y="223.90" width="8.0" height="8.0" fill="#ff0000"/>
<rect x="65.04" y="222.45" width="8.0" height="8.0" fill="#ff0000"/>
<rect x="66.25" y="221.15" width="8.0" height="8.0" fill="#ff0000"/>
<rect x="67.46" y="220.42" width="8.0" height="8.0" fill="#ff0000"/>
<rect x="68.67" y="219.70" width="8.0" height="8.0" fill="#ff0000"/>
<rect x="69.88" y="219.06" width="8.0" height="8.0" fill="#ff0000"/>
<rect x="71.08" y="218.46" width="8.0" height="8.0" fill="#ff0000"/>
<rect x="72.29" y="217.90" width="8.0" height="8.0" fill="#ff0000"/>
<rect x="73.50" y="217.50" width="8.0" height="8.0" fill="#ff0000"/>
<rect x="74.71" y="217.10" width="8.0" height="8.0" fill="#ff0000"/>
<rect x="75.92" y="216.72" width="8.0" height="8.0" fill="#ff0000"/>
<rect x="77.13" y="216.36" width="8.0" height="8.0" fill="#ff0000"/>
<rect x="78.34" y="216.00" width="8.0" height="8.0" fill="#ff0000"/>
<rect x="79.54" y="215.64" width="8.0" height="8.0" fill="#ff0000"/>
<rect x="80.75" y="215.30" width="8.0" height="8.0" fill="#ff0000"/>
<rect x="81.96" y="214.95" width="8.0" height="8.0" fill="#ff0000"/>
<rect x="83.17" y="214.61" width="8.0" height="8.0" fill="#ff0000"/>
<rect x="84.38" y="214.26" width="8.0" height="8.0" fill="#ff0000"/>
<rect x="85.59" y="213.92" width="8.0" height="8.0" fill="#ff0000"/>
<rect x="86.79" y="213.70" width="8.0" height="8.0" fill="#ff0000"/>
<rect x="88.00" y="213.54" width="8.0" height="8.0" fill="#ff0000"/>
<rect x="89.21" y="213.38" width="8.0" height="8.0" fill="#ff0000"/>
<rect x="90.42" y="213.23" width="8.0" height="8.0" fill="#ff0000"/>
<rect x="91.63" y="213.07" width="8.0" height="8.0" fill="#ff0000"/>
<rect x="92.84" y="212.91" width="8.0" height="8.0" fill="#ff0000"/>
<rect x="94.05" y="212.75" width="8.0" height="8.0" fill="#ff0000"/>
<rect x="95.25" y="212.60" width="8.0" height="8.0" fill="#ff0000"/>
<rect x="96.46" y="212.44" width="8.0" height="8.0" fill="#ff0000"/>
<rect x="97.67" y="212.30" width="8.0" height="8.0" fill="#ff0000"/>
<rect x="98.88" y="212.15" width="8.0" height="8.0" fill="#ff0000"/>
<rect x="100.09" y="212.01" width="8.0" height="8.0" fill="#ff0000"/>
<rect x="101.30" y="211.86" width="8.0" height="8.0" fill="#ff0000"/>
<rect x="102.50" y="211.72" width="8.0" height="8.0" fill="#ff0000"/>
<rect x="103.71" y="211.57" width="8.0" height="8.0" fill="#ff0000"/>
<rect x="104.92" y="211.43" width="8.0" height="8.0" fill="#ff0000"/>
<rect x="106.13" y="211.28" width="8.0" height="8.0" fill="#ff0000"/>
<rect x="107.34" y="211.14" width="8.0" height="8.0" fill="#ff0000"/>
<rect x="108.55" y="210.99" width="8.0" height="8.0" fill="#ff0000"/>
<rect x="109.76" y="210.85" width="8.0" height="8.0" fill="#ff0000"/>
<rect x="110.96" y="210.70" width="8.0" height="8.0" fill="#ff0000"/>
<rect x="112.17" y="210.56" width="8.0" height="8.0" fill="#ff0000"/>
<rect x="113.38" y="210.41" width="8.0" height="8.0" fill="#ff0000"/>
<rect x="114.59" y="210.27" width="8.0" height="8.0" fill="#ff0000"/>
<rect x="115.80" y="210.12" width="8.0" height="8.0" fill="#ff0000"/>
<rect x="117.01" y="209.98" width="8.0" height="8.0" fill="#ff0000"/>
<rect x="118.21" y="209.83" width="8.0" height="8.0" fill="#ff0000"/>
<rect x="119.42" y="209.69" width="8.0" height="8.0" fill="#ff0000"/>
<rect x="120.63" y="209.54" width="8.0" height="8.0" fill="#ff0000"/>
<rect x="121.84" y="209.46" width="8.0" height="8.0" fill="#ff0000"/>
<rect x="123.05" y="209.40" width="8.0" height="8.0" fill="#ff0000"/>
<rect x="124.26" y="209.34" width="8.0" height="8.0" fill="#ff0000"/>
<rect x="125.47" y="209.29" width="8.0" height="8.0" fill="#ff0000"/>
<rect x="126.67" y="209.23" width="8.0" height="8.0" fill="#ff0000"/>
<rect x="127.88" y="209.17" width="8.0" height="8.0" fill="#ff0000"/>
<rect x="129.09" y="209.11" width="8.0" height="8.0" fill="#ff0000"/>
<rect x="130.30" y="209.05" width="8.0" height="8.0" fill="#ff0000"/>
<rect x="131.51" y="209.00" width="8.0" height="8.0" fill="#ff0000"/>
<rect x="132.72" y="208.94" width="8.0" height="8.0" fill="#ff0000"/>
<rect x="133.92" y="208.88" width="8.0" height="8.0" fill="#ff0000"/>
<rect x="135.13" y="208.82" width="8.0" height="8.0" fill="#ff0000"/>
<rect x="136.34" y="208.76" width="8.0" height="8.0" fill="#ff0000"/>
<rect x="137.55" y="208.71" width="8.0" height="8.0" fill="#ff0000"/>
<rect x="138.76" y="208.65" width="8.0" height="8.0" fill="#ff0000"/>
<rect x="139.97" y="208.59" width="8.0" height="8.0" fill="#ff0000"/>
<rect x="141.18" y="208.53" width="8.0" height="8.0" fill="#ff0000"/>
<rect x="142.38" y="208.47" width="8.0" height="8.0" fill="#ff0000"/>
<rect x="143.59" y="208.42" width="8.0" height="8.0" fill="#ff0000"/>
<rect x="144.80" y="208.36" width="8.0" height="8.0" fill="#ff0000"/>
<rect x="146.01" y="208.30" width="8.0" height="8.0" fill="#ff0000"/>
<rect x="147.22" y="208.29" width="8.0" height="8.0" fill="#ff0000"/>
<rect x="148.43" y="208.28" width="8.0" height="8.0" fill="#ff0000"/>
<rect x="149.63" y="208.26" width="8.0" height="8.0" fill="#ff0000"/>
<rect x="150.84" y="208.25" width="8.0" height="8.0" fill="#ff0000"/>
<rect x="152.05" y="208.24" width="8.0" height="8.0" fill="#ff0000"/>
<rect x="153.26" y="208.23" width="8.0" height="8.0" fill="#ff0000"/>
<rect x="154.47" y="208.22" width="8.0" height="8.0" fill="#ff0000"/>
<rect x="155.68" y="208.20" width="8.0" height="8.0" fill="#ff0000"/>
<rect x="156.89" y="208.19" width="8.0" height="8.0" fill="#ff0000"/>
<rect x="158.09" y="208.18" width="8.0" height="8.0" fill="#ff0000"/>
<rect x="159.30" y="208.17" width="8.0" height="8.0" fill="#ff0000"/>
<rect x="160.51" y="208.15" width="8.0" height="8.0" fill="#ff0000"/>
<rect x="161.72" y="208.14" width="8.0" height="8.0" fill="#ff0000"/>
<rect x="162.93" y="208.13" width="8.0" height="8.0" fill="#ff0000"/>
<rect x="164.14" y="208.12" width="8.0" height="8.0" fill="#ff0000"/>
<rect x="165.34" y="208.11" width="8.0" height="8.0" fill="#ff0000"/>
<rect x="166.55" y="208.09" width="8.0" height="8.0" fill="#ff0000"/>
<rect x="167.76" y="208.08" width="8.0" height="8.0" fill="#ff0000"/>
<rect x="168.97" y="208.07" width="8.0" height="8.0" fill="#ff0000"/>
<rect x="170.18" y="208.06" width="8.0" height="8.0" fill="#ff0000"/>
<rect x="171.39" y="208.05" width="8.0" height="8.0" fill="#ff0000"/>
<rect x="172.60" y="208.03" width="8.0" height="8.0" fill="#ff0000"/>
<rect x="173.80" y="208.02" width="8.0" height="8.0" fill="#ff0000"/>
<rect x="175.01" y="208.01" width="8.0" height="8.0" fill="#ff0000"/>
<rect x="176.22" y="207.99" width="8.0" height="8.0" fill="#ff0000"/>
<rect x="177.43" y="207.94" width="8.0" height="8.0" fill="#ff0000"/>
<rect x="178.64" y="207.89" width="8.0" height="8.0" fill="#ff0000"/>
<rect x="179.85" y="207.84" width="8.0" height="8.0" fill="#ff0000"/>
<rect x="181.05" y="207.79" width="8.0" height="8.0" fill="#ff0000"/>
<rect x="182.26" y="207.74" width="8.0" height="8.0" fill="#ff0000"/>
<rect x="183.47" y="207.69" width="8.0" height="8.0" fill="#ff0000"/>
<rect x="184.68" y="207.64" width="8.0" height="8.0" fill="#ff0000"/>
<rect x="185.89" y="207.59" width="8.0" height="8.0" fill="#ff0000"/>
<rect x="187.10" y="207.54" width="8.0" height="8.0" fill="#ff0000"/>
<rect x="188.30" y="207.47" width="8.0" height="8.0" fill="#ff0000"/>
<rect x="189.51" y="207.34" width="8.0" height="8.0" fill="#ff0000"/>
<rect x="190.72" y="207.21" width="8.0" height="8.0" fill="#ff0000"/>
<rect x="191.93" y="207.07" width="8.0" height="8.0" fill="#ff0000"/>
<rect x="193.14" y="206.94" width="8.0" height="8.0" fill="#ff0000"/>
<rect x="194.35" y="206.81" width="8.0" height="8.0" fill="#ff0000"/>
<rect x="195.56" y="206.68" width="8.0" height="8.0" fill="#ff0000"/>
<rect x="196.76" y="206.55" width="8.0" height="8.0" fill="#ff0000"/>
<rect x="197.97" y="206.42" width="8.0" height="8.0" fill="#ff0000"/>
<rect x="199.18" y="206.29" width="8.0" height="8.0" fill="#ff0000"/>
<rect x="200.39" y="206.04" width="8.0" height="8.0" fill="#ff0000"/>
<rect x="201.60" y="205.53" width="8.0" height="8.0" fill="#ff0000"/>
<rect x="202.81" y="205.02" width="8.0" height="8.0" fill="#ff0000"/>
<rect x="204.01" y="204.51" width="8.0" height="8.0" fill="#ff0000"/>
<rect x="205.22" y="204.01" width="8.0" height="8.0" fill="#ff0000"/>
<rect x="206.43" y="203.50" width="8.0" height="8.0" fill="#ff0000"/>
<rect x="207.64" y="202.99" width="8.0" height="8.0" fill="#ff0000"/>
<rect x="208.85" y="202.48" width="8.0" height="8.0" fill="#ff0000"/>
<rect x="210.06" y="201.96" width="8.0" height="8.0" fill="#ff0000"/>
<rect x="211.27" y="201.20" width="8.0" height="8.0" fill="#ff0000"/>
<rect x="212.47" y="200.43" width="8.0" height="8.0" fill="#ff0000"/>
<rect x="213.68" y="199.67" width="8.0" height="8.0" fill="#ff0000"/>
<rect x="214.89" y="198.90" width="8.0" height="8.0" fill="#ff0000"/>
<rect x="216.10" y="198.14" width="8.0" height="8.0" fill="#ff0000"/>
<rect x="217.31" y="197.37" width="8.0" height="8.0" fill="#ff0000"/>
<rect x="218.52" y="196.61" width="8.0" height="8.0" fill="#ff0000"/>
<rect x="219.72" y="195.82" width="8.0" height="8.0" fill="#ff0000"/>
<rect x="220.93" y="195.01" width="8.0" height="8.0" fill="#ff0000"/>
<rect x="222.14" y="194.21" width="8.0" height="8.0" fill="#ff0000"/>
<rect x="223.35" y="193.40" width="8.0" height="8.0" fill="#ff0000"/>
<rect x="224.56" y="192.59" width="8.0" height="8.0" fill="#ff0000"/>
<rect x="225.77" y="191.67" width="8.0" height="8.0" fill="#ff0000"/>
<rect x="226.98" y="190.69" width="8.0" height="8.0" fill="#ff0000"/>
<rect x="228.18" y="189.70" width="8.0" height="8.0" fill="#ff0000"/>
<rect x="229.39" y="188.72" width="8.0" height="8.0" fill="#ff0000"/>
<rect x="230.60" y="187.73" width="8.0" height="8.0" fill="#ff0000"/>
<rect x="231.81" y="186.62" width="8.0" height="8.0" fill="#ff0000"/>
<rect x="233.02" y="185.12" width="8.0" height="8.0" fill="#ff0000"/>
<rect x="234.23" y="183.63" width="8.0" height="8.0" fill="#ff0000"/>
<rect x="235.43" y="182.14" width="8.0" height="8.0" fill="#ff0000"/>
<rect x="236.64" y="180.65" width="8.0" height="8.0" fill="#ff0000"/>
<rect x="237.85" y="179.15" width="8.0" height="8.0" fill="#ff0000"/>
<rect x="239.06" y="177.66" width="8.0" height="8.0" fill="#ff0000"/>
<rect x="240.27" y="176.07" width="8.0" height="8.0" fill="#ff0000"/>
<rect x="241.48" y="174.16" width="8.0" height="8.0" fill="#ff0000"/>
<rect x="242.69" y="172.24" width="8.0" height="8.0" fill="#ff0000"/>
<rect x="243.89" y="170.33" width="8.0" height="8.0" fill="#ff0000"/>
<rect x="245.10" y="168.41" width="8.0" height="8.0" fill="#ff0000"/>
<rect x="246.31" y="166.49" width="8.0" height="8.0" fill="#ff0000"/>
<rect x="247.52" y="164.58" width="8.0" height="8.0" fill="#ff0000"/>
<rect x="248.73" y="162.77" width="8.0" height="8.0" fill="#ff0000"/>
<rect x="249.94" y="161.11" width="8.0" height="8.0" fill="#ff0000"/>
<rect x="251.14" y="159.45" width="8.0" height="8.0" fill="#ff0000"/>
<rect x="252.35" y="157.78" width="8.0" height="8.0" fill="#ff0000"/>
<rect x="253.56" y="156.12" width="8.0" height="8.0" fill="#ff0000"/>
<rect x="254.77" y="154.46" width="8.0" height="8.0" fill="#ff0000"/>
<rect x="255.98" y="152.79" width="8.0" height="8.0" fill="#ff0000"/>
<rect x="257.19" y="151.13" width="8.0" height="8.0" fill="#ff0000"/>
<rect x="258.40" y="149.43" width="8.0" height="8.0" fill="#ff0000"/>
<rect x="259.60" y="147.72" width="8.0" height="8.0" fill="#ff0000"/>
<rect x="260.81" y="146.01" width="8.0" height="8.0" fill="#ff0000"/>
<rect x="262.02" y="144.30" width="8.0" height="8.0" fill="#ff0000"/>
<rect x="263.23" y="142.59" width="8.0" height="8.0" fill="#ff0000"/>
<rect x="264.44" y="140.87" width="8.0" height="8.0" fill="#ff0000"/>
<rect x="265.65" y="139.12" width="8.0" height="8.0" fill="#ff0000"/>
<rect x="266.85" y="137.38" width="8.0" height="8.0" fill="#ff0000"/>
<rect x="268.06" y="135.63" width="8.0" height="8.0" fill="#ff0000"/>
<rect x="269.27" y="133.34" width="8.0" height="8.0" fill="#ff0000"/>
<rect x="270.48" y="130.75" width="8.0" height="8.0" fill="#ff0000"/>
<rect x="271.69" y="128.15" width="8.0" height="8.0" fill="#ff0000"/>
<rect x="272.90" y="125.84" width="8.0" height="8.0" fill="#ff0000"/>
<rect x="274.11" y="122.89" width="8.0" height="8.0" fill="#ff0000"/>
<rect x="275.31" y="119.45" width="8.0" height="8.0" fill="#ff0000"/>
<rect x="276.52" y="116.88" width="8.0" height="8.0" fill="#ff0000"/>
<rect x="277.73" y="112.92" width="8.0" height="8.0" fill="#ff0000"/>
<rect x="278.94" y="109.36" width="8.0" height="8.0" fill="#ff0000"/>
<rect x="280.15" y="105.99" width="8.0" height="8.0" fill="#ff0000"/>
<rect x="281.36" y="102.74" width="8.0" height="8.0" fill="#ff0000"/>
<rect x="282.56" y="99.25" width="8.0" height="8.0" fill="#ff0000"/>
<rect x="283.77" y="95.49" width="8.0" height="8.0" fill="#ff0000"/>
<rect x="284.98" y="93.23" width="8.0" height="8.0" fill="#ff0000"/>
<rect x="286.19" y="91.14" width="8.0" height="8.0" fill="#ff0000"/>
<rect x="287.40" y="88.72" width="8.0" height="8.0" fill="#ff0000"/>
<rect x="288.61" y="84.55" width="8.0" height="8.0" fill="#ff0000"/>
<rect x="289.82" y="80.51" width="8.0" height="8.0" fill="#ff0000"/>
<rect x="291.02" y="76.59" width="8.0" height="8.0" fill="#ff0000"/>
<rect x="292.23" y="72.48" width="8.0" height="8.0" fill="#ff0000"/>
<rect x="293.44" y="68.44" width="8.0" height="8.0" fill="#ff0000"/>
<rect x="294.65" y="65.38" width="8.0" height="8.0" fill="#ff0000"/>
<rect x="295.86" y="62.32" width="8.0" height="8.0" fill="#ff0000"/>
<rect x="297.07" y="58.14" width="8.0" height="8.0" fill="#ff0000"/>
<rect x="298.27" y="53.50" width="8.0" height="8.0" fill="#ff0000"/>
<rect x="299.48" y="49.53" width="8.0" height="8.0" fill="#ff0000"/>
<rect x="300.69" y="45.27" width="8.0" height="8.0" fill="#ff0000"/>
<rect x="301.90" y="40.70" width="8.0" height="8.0" fill="#ff0000"/>
</g>
<path d="M48 0.4 L320.2 0.4 L320.2 250.9 L48 250.9 Z" fill="none" stroke="#444" stroke-width="1.9" stroke-linejoin="round"/>
<line x1="63.5" y1="251" x2="63.5" y2="256" stroke="#444" stroke-width="1.3"/>
<line x1="123.5" y1="251" x2="123.5" y2="256" stroke="#444" stroke-width="1.3"/>
<line x1="184.5" y1="251" x2="184.5" y2="256" stroke="#444" stroke-width="1.3"/>
<line x1="244.5" y1="251" x2="244.5" y2="256" stroke="#444" stroke-width="1.3"/>
<line x1="305.5" y1="251" x2="305.5" y2="256" stroke="#444" stroke-width="1.3"/>
<line x1="93.5" y1="251" x2="93.5" y2="254" stroke="#444" stroke-width="1.3"/>
<line x1="154.5" y1="251" x2="154.5" y2="254" stroke="#444" stroke-width="1.3"/>
<line x1="214.5" y1="251" x2="214.5" y2="254" stroke="#444" stroke-width="1.3"/>
<line x1="275.5" y1="251" x2="275.5" y2="254" stroke="#444" stroke-width="1.3"/>
<line x1="43" y1="250.5" x2="47" y2="250.5" stroke="#444" stroke-width="1.3"/>
<line x1="43" y1="212.5" x2="47" y2="212.5" stroke="#444" stroke-width="1.3"/>
<line x1="43" y1="173.5" x2="47" y2="173.5" stroke="#444" stroke-width="1.3"/>
<line x1="43" y1="135.5" x2="47" y2="135.5" stroke="#444" stroke-width="1.3"/>
<line x1="43" y1="96.5" x2="47" y2="96.5" stroke="#444" stroke-width="1.3"/>
<line x1="43" y1="58.5" x2="47" y2="58.5" stroke="#444" stroke-width="1.3"/>
<line x1="43" y1="19.5" x2="47" y2="19.5" stroke="#444" stroke-width="1.3"/>
<line x1="45" y1="231.5" x2="47" y2="231.5" stroke="#444" stroke-width="1.3"/>
<line x1="45" y1="193.5" x2="47" y2="193.5" stroke="#444" stroke-width="1.3"/>
<line x1="45" y1="154.5" x2="47" y2="154.5" stroke="#444" stroke-width="1.3"/>
<line x1="45" y1="116.5" x2="47" y2="116.5" stroke="#444" stroke-width="1.3"/>
<line x1="45" y1="77.5" x2="47" y2="77.5" stroke="#444" stroke-width="1.3"/>
<line x1="45" y1="39.5" x2="47" y2="39.5" stroke="#444" stroke-width="1.3"/>
<text x="40.8" y="256.6" font-family="Liberation Sans, sans-serif" font-size="16" text-anchor="end">-1</text>
<text x="40.8" y="218.1" font-family="Liberation Sans, sans-serif" font-size="16" text-anchor="end">0</text>
<text x="40.8" y="179.6" font-family="Liberation Sans, sans-serif" font-size="16" text-anchor="end">1</text>
<text x="40.8" y="141.1" font-family="Liberation Sans, sans-serif" font-size="16" text-anchor="end">2</text>
<text x="40.8" y="102.6" font-family="Liberation Sans, sans-serif" font-size="16" text-anchor="end">3</text>
<text x="40.8" y="64.1" font-family="Liberation Sans, sans-serif" font-size="16" text-anchor="end">4</text>
<text x="40.8" y="25.6" font-family="Liberation Sans, sans-serif" font-size="16" text-anchor="end">5</text>
<text x="63.4" y="271.0" font-family="Liberation Sans, sans-serif" font-size="16" text-anchor="middle">-2</text>
<text x="123.9" y="271.0" font-family="Liberation Sans, sans-serif" font-size="16" text-anchor="middle">-1</text>
<text x="184.3" y="271.0" font-family="Liberation Sans, sans-serif" font-size="16" text-anchor="middle">0</text>
<text x="244.8" y="271.0" font-family="Liberation Sans, sans-serif" font-size="16" text-anchor="middle">1</text>
<text x="305.2" y="271.0" font-family="Liberation Sans, sans-serif" font-size="16" text-anchor="middle">2</text>
<text x="184.5" y="288.5" font-family="Liberation Sans, sans-serif" font-size="16.5" text-anchor="middle">Voltage, V</text>
<text transform="translate(17.6,231.8) rotate(-90)" x="0" y="0" font-family="Liberation Sans, sans-serif" font-size="17.2">Current density, mA/m<tspan font-size="11" dy="-7">2</tspan></text>
<rect x="50.5" y="4.5" width="216.8" height="66" fill="#fff" stroke="#999" stroke-width="1"/>
<line x1="59.5" y1="16.2" x2="89" y2="16.2" stroke="#0000ff" stroke-width="1.8"/>
<circle cx="74.2" cy="16.2" r="4.9" fill="#fff" stroke="#0000ff" stroke-width="1.3"/>
<text x="92.5" y="20.7" font-family="Liberation Sans, sans-serif" font-size="12.7">ITO/NiPc/Al</text>
<line x1="59.5" y1="31.9" x2="89" y2="31.9" stroke="#0000ff" stroke-width="1.8"/>
<circle cx="74.2" cy="31.9" r="5.2" fill="#0000ff"/>
<text x="92.5" y="36.4" font-family="Liberation Sans, sans-serif" font-size="12.7">ITO/NiPc/Al after 30 days</text>
<line x1="59.5" y1="47.5" x2="89" y2="47.5" stroke="#ff0000" stroke-width="1.8"/>
<rect x="69.7" y="43.0" width="9" height="9" fill="#fff" stroke="#ff0000" stroke-width="1.1"/>
<text x="92.5" y="52.0" font-family="Liberation Sans, sans-serif" font-size="12.7">ITO/NiPc/ZnO/Al</text>
<line x1="59.5" y1="63.0" x2="89" y2="63.0" stroke="#ff0000" stroke-width="1.8"/>
<rect x="69.60000000000001" y="58.4" width="9.2" height="9.2" fill="#ff0000"/>
<text x="92.5" y="67.5" font-family="Liberation Sans, sans-serif" font-size="12.7">ITO/NiPc/ZnO/Al after 30 days</text>
</svg></div>
</body></html>
